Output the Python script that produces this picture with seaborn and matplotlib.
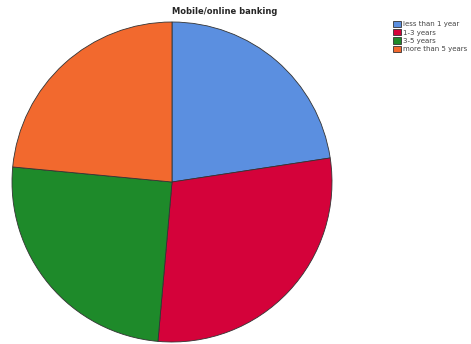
import matplotlib
matplotlib.use("Agg")
import matplotlib.pyplot as plt
import seaborn as sns

sns.set_theme(style="white")
plt.rcParams['font.family'] = ['DejaVu Sans']

categories = ["less than 1 year", "1-3 years", "3-5 years", "more than 5 years"]
values = [22.6, 28.8, 25.1, 23.5]
colors = ["#5B8FE0", "#D4023A", "#1E8A2A", "#F2692E"]
title = "Mobile/online banking"

fig = plt.figure(figsize=(4.71, 3.44), dpi=100)
ax = fig.add_axes([12/471, 2/344, 320/471, 320/344])
wedges, _ = ax.pie(values, colors=sns.color_palette(colors), startangle=90, counterclock=False,
                   wedgeprops=dict(edgecolor="#333333", linewidth=0.6))
ax.set_aspect("equal")
ax.set_xlim(-1.0, 1.0)
ax.set_ylim(-1.0, 1.0)

fig.text(225/471, 1 - 12/344, title, ha="center", va="center", fontsize=6, fontweight="bold")
leg = fig.legend(wedges, categories, loc="upper left", bbox_to_anchor=(393/471, 1 - 21/344),
                 fontsize=5, frameon=False, handlelength=1.1, handleheight=1.0,
                 handletextpad=0.3, labelspacing=0.25, borderpad=0, borderaxespad=0)
for t in leg.get_texts():
    t.set_color("#444444")
fig.savefig("out.png", dpi=100)
